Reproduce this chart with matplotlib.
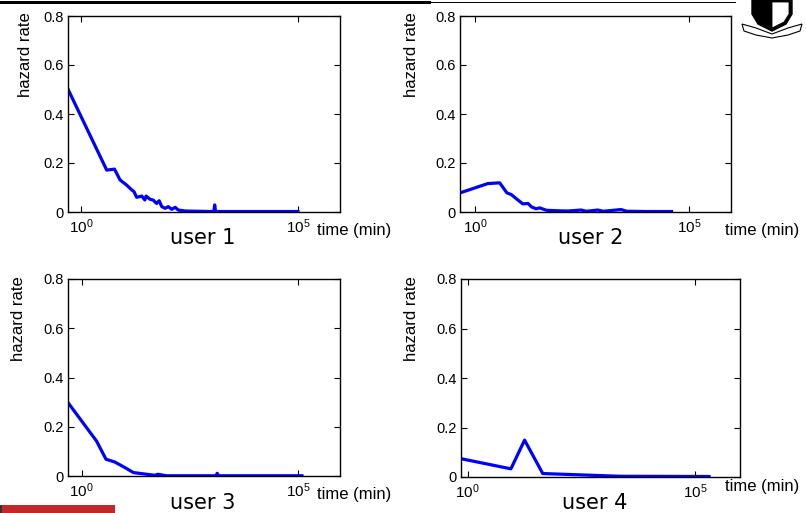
import numpy as np
import matplotlib
matplotlib.use('Agg')
import matplotlib.pyplot as plt
from matplotlib.patches import Rectangle, Polygon

# ---------------- data (time in minutes, hazard rate) ----------------
u1_t = [0.51, 3.9, 5.9, 7.9, 11.2, 14.8, 16.6, 19.1, 25.1, 29.5, 31.6, 38.9,
        45.7, 55.0, 63.1, 72.4, 87.1, 102, 123, 148, 174, 251, 1000, 1150,
        1202, 1260, 1500, 100000]
u1_h = [0.498, 0.171, 0.175, 0.131, 0.110, 0.090, 0.083, 0.060, 0.065, 0.049,
        0.065, 0.052, 0.049, 0.035, 0.046, 0.022, 0.015, 0.022, 0.011, 0.019,
        0.008, 0.004, 0.002, 0.002, 0.029, 0.002, 0.002, 0.002]

u2_t = [0.45, 2.0, 3.8, 5.6, 7.1, 9.3, 13.2, 17.4, 20.9, 26.9, 32.4, 46.8, 87,
        150, 302, 400, 741, 1000, 2570, 3500, 10000, 38900]
u2_h = [0.078, 0.116, 0.119, 0.078, 0.071, 0.054, 0.033, 0.035, 0.021, 0.013,
        0.017, 0.007, 0.005, 0.004, 0.008, 0.003, 0.008, 0.003, 0.010, 0.003,
        0.002, 0.002]

u3_t = [0.48, 2.19, 3.63, 5.75, 10, 15.5, 31.6, 49, 57.5, 91, 1260, 1350, 1445,
        123000]
u3_h = [0.298, 0.142, 0.068, 0.057, 0.034, 0.014, 0.007, 0.003, 0.007, 0.001,
        0.001, 0.011, 0.001, 0.001]

u4_t = [0.71, 8.9, 17.8, 44.7, 2190, 204000]
u4_h = [0.074, 0.033, 0.149, 0.014, 0.003, 0.002]

series = [(u1_t, u1_h), (u2_t, u2_h), (u3_t, u3_h), (u4_t, u4_h)]
titles = ['user 1', 'user 2', 'user 3', 'user 4']
yticks = [0, 0.2, 0.4, 0.6, 0.8]
ytick_labels = ['0', '0.2', '0.4', '0.6', '0.8']
xticks = [1, 1e5]
xtick_labels = ['$10^0$', '$10^5$']
ylabel = 'hazard rate'
xlabel = 'time (min)'

# ---------------- layout ----------------
W, H = 806, 513
plt.rcParams['mathtext.fontset'] = 'custom'
plt.rcParams['mathtext.rm'] = 'Liberation Sans'
plt.rcParams['mathtext.default'] = 'regular'
plt.rcParams['font.family'] = ['Liberation Sans', 'DejaVu Sans']

fig = plt.figure(figsize=(W / 100, H / 100), dpi=100)
fig.patch.set_facecolor('white')

def px(x0, y0, x1, y1):
    return [x0 / W, 1 - y1 / H, (x1 - x0) / W, (y1 - y0) / H]

boxes = [px(68, 16, 340, 212), px(460, 16, 731, 212),
         px(68, 279, 340, 476), px(461, 279, 740, 477)]
xlims = [(0.50, 9.3e5), (0.45, 9.5e5), (0.48, 9.3e5), (0.71, 9.8e5)]

for i, (t, h) in enumerate(series):
    ax = fig.add_axes(boxes[i])
    ax.plot(t, h, color='#0000ff', lw=2.3, solid_joinstyle='round')
    ax.set_xscale('log')
    ax.set_xlim(*xlims[i])
    ax.set_ylim(0, 0.8)
    ax.set_xticks(xticks)
    ax.set_xticklabels(xtick_labels)
    ax.xaxis.set_minor_locator(matplotlib.ticker.NullLocator())
    ax.set_yticks(yticks)
    ax.set_yticklabels(ytick_labels)
    ax.tick_params(direction='in', top=True, right=True, length=4, width=0.8,
                   colors='black')
    ax.tick_params(axis='y', labelsize=10.5, pad=3)
    ax.tick_params(axis='x', labelsize=11, pad=4)
    for s in ax.spines.values():
        s.set_linewidth(1.0)

def ftext(x, y, s, **kw):
    fig.text(x / W, 1 - y / H, s, **kw)

# y labels
for (x, y) in [(26, 12), (411, 12), (19, 276), (411, 276)]:
    ftext(x, y, ylabel, rotation=90, ha='center', va='top', fontsize=12)
# x labels
for (x, y) in [(317, 230), (725, 230), (317, 494), (725, 487)]:
    ftext(x, y, xlabel, ha='left', va='center', fontsize=12)
# user titles
for (x, y), s in zip([(203, 238), (591, 238), (203, 503), (595, 503)], titles):
    ftext(x, y, s, ha='center', va='center', fontsize=15,
          family=['DejaVu Sans'])

# ---------------- slide decorations ----------------
fig.patches.append(Rectangle((0, 1 - 4 / H), 431 / W, 3 / H,
                             transform=fig.transFigure, color='black', lw=0))
fig.patches.append(Rectangle((431 / W, 1 - 3 / H), 305 / W, 1.2 / H,
                             transform=fig.transFigure, color='black', lw=0))
fig.patches.append(Rectangle((2 / W, 0), 113 / W, 8 / H,
                             transform=fig.transFigure, color='#c0282a', lw=0))
fig.patches.append(Rectangle((0, 0), 2 / W, 8 / H,
                             transform=fig.transFigure, color='#333333', lw=0))

def fpoly(pts, **kw):
    fig.patches.append(Polygon([(x / W, 1 - y / H) for x, y in pts],
                               closed=True, transform=fig.transFigure, **kw))

# crude shield logo
fpoly([(752, 0), (792, 0), (792, 14), (786, 24), (772, 31), (758, 24), (752, 14)],
      facecolor='black', edgecolor='black', lw=1)
fpoly([(772, 2), (789, 2), (789, 14), (784, 22), (772, 28)],
      facecolor='white', edgecolor='black', lw=0.6)
fpoly([(742, 24), (756, 28), (772, 34), (788, 28), (802, 24), (800, 31),
       (788, 35), (772, 38), (756, 35), (744, 31)],
      facecolor='white', edgecolor='black', lw=0.8)

fig.savefig('out.png', dpi=100, facecolor='white')
